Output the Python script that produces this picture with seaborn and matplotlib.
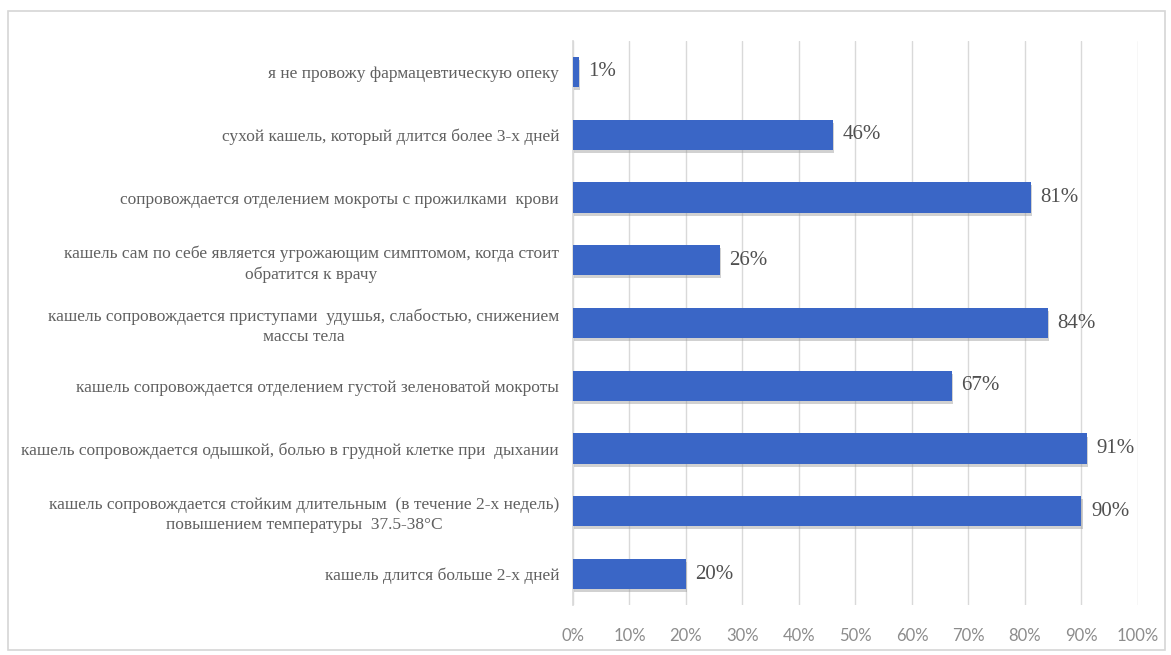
import matplotlib
matplotlib.use("Agg")
import matplotlib.pyplot as plt
import matplotlib.patheffects as pe
import seaborn as sns
import pandas as pd
from matplotlib.ticker import MultipleLocator, FuncFormatter

categories = [
    "я не провожу фармацевтическую опеку",
    "сухой кашель, который длится более 3-х дней",
    "сопровождается отделением мокроты с прожилками  крови",
    "кашель сам по себе является угрожающим симптомом, когда стоит\nобратится к врачу",
    "кашель сопровождается приступами  удушья, слабостью, снижением\nмассы тела",
    "кашель сопровождается отделением густой зеленоватой мокроты",
    "кашель сопровождается одышкой, болью в грудной клетке при  дыхании",
    "кашель сопровождается стойким длительным  (в течение 2-х недель)\nповышением температуры  37.5-38°С",
    "кашель длится больше 2-х дней",
]
values = [1, 46, 81, 26, 84, 67, 91, 90, 20]

df = pd.DataFrame({"category": categories, "value": values})

sns.set_theme(style="white")
fig = plt.figure(figsize=(11.71, 6.55), dpi=100)
ax = fig.add_axes([0.4893, 0.0757, 0.4825, 0.8623])

sns.barplot(data=df, y="category", x="value", orient="h", color="#3A66C6",
            width=0.48, saturation=1, ax=ax, zorder=3)
for bar in ax.patches:
    bar.set_linewidth(0)
    bar.set_path_effects([pe.SimplePatchShadow(offset=(0.8, -2.2), shadow_rgbFace="#9a9a9a",
                                               alpha=0.45),
                          pe.Normal()])

ax.set_xlim(0, 100)
ax.xaxis.set_major_locator(MultipleLocator(10))
ax.xaxis.set_major_formatter(FuncFormatter(lambda v, p: f"{int(v)}%"))
ax.grid(axis="x", color="#d9d9d9", linewidth=1, zorder=0)
ax.set_axisbelow(True)
for s in ["top", "right", "bottom"]:
    ax.spines[s].set_visible(False)
ax.spines["left"].set_color("#d9d9d9")
ax.set_xlabel("")
ax.set_ylabel("")

ax.tick_params(axis="x", length=0, pad=16, labelsize=12, labelcolor="#8c8c8c")
ax.tick_params(axis="y", length=0, pad=10)
for lbl in ax.get_xticklabels():
    lbl.set_family("Lato")
for lbl in ax.get_yticklabels():
    lbl.set_family("Liberation Serif")
    lbl.set_fontsize(12.5)
    lbl.set_color("#606060")
    lbl.set_multialignment("center")
    lbl.set_linespacing(1.35)

for i, v in enumerate(values):
    ax.text(v + 1.7, i, f"{v}%", va="center", ha="left",
            family="Liberation Serif", fontsize=15, color="#505050")

# light frame around the chart area
fig.patches.append(plt.Rectangle((0.007, 0.008), 0.988, 0.975, transform=fig.transFigure,
                                 fill=False, edgecolor="#d6d6d6", linewidth=1.2))

fig.savefig("out.png", dpi=100)
